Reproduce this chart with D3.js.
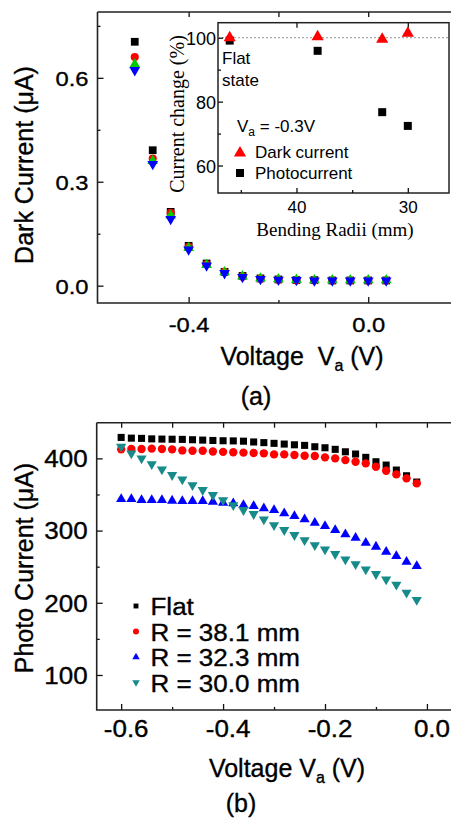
<!DOCTYPE html>
<meta charset="utf-8">
<head>
<title>Dark and photo current under bending</title>
<style>
body { margin: 0; background: #fff; }
svg text { font-family: "Liberation Sans", Arial, sans-serif; fill: #000; }
svg .heavy text, svg text.heavy { stroke: #000; stroke-width: 0.35; }
svg .serif { font-family: "Liberation Serif", "Times New Roman", serif; }
.domain { display: none; }
.tick line { stroke: #111; stroke-width: 1.3; }
.frame { fill: none; stroke: #222; stroke-width: 1.6; }
</style>
</head>
<body>
<div id="chart"></div>
<script src="https://d3js.org/d3.v7.min.js"></script>
<script>
// (a) dark current, four bending states
var darkV = [-0.52, -0.48, -0.44, -0.40, -0.36, -0.32, -0.28, -0.24, -0.20, -0.16, -0.12, -0.08, -0.04, 0.00, 0.04];
var darkFlat = [0.704, 0.391, 0.213, 0.115, 0.064, 0.040, 0.028, 0.021, 0.018, 0.016, 0.016, 0.015, 0.015, 0.015, 0.015];
var dark381 = [0.660, 0.367, 0.210, 0.112, 0.062, 0.040, 0.026, 0.020, 0.017, 0.015, 0.015, 0.015, 0.015, 0.015, 0.015];
var dark323 = [0.639, 0.360, 0.203, 0.109, 0.060, 0.039, 0.027, 0.021, 0.019, 0.017, 0.016, 0.016, 0.016, 0.016, 0.016];
var dark300 = [0.622, 0.351, 0.192, 0.104, 0.058, 0.036, 0.025, 0.019, 0.017, 0.016, 0.015, 0.015, 0.015, 0.015, 0.015];

// inset: current change at Va = -0.3 V
var radii = [46, 38.1, 32.3, 30.0];
var darkChange = [100, 100.3, 99.5, 101.4];
var photoChange = [99.1, 95.9, 76.7, 72.4];

// (b) photo current
var photoV = [-0.60, -0.58, -0.56, -0.54, -0.52, -0.50, -0.48, -0.46, -0.44, -0.42,
              -0.40, -0.38, -0.36, -0.34, -0.32, -0.30, -0.28, -0.26, -0.24, -0.22,
              -0.20, -0.18, -0.16, -0.14, -0.12, -0.10, -0.08, -0.06, -0.04, -0.02];
var photoFlat = [429, 428, 427.7, 427, 426.7, 426.5, 426.3, 425.8, 425.3, 424.8,
                 424.4, 424.2, 423.8, 422.7, 421.8, 420.8, 419.8, 418.8, 418, 416.1,
                 414.7, 412.5, 409.1, 406, 401.4, 395.3, 390.7, 383.8, 375.9, 367.2];
var photo381 = [412.5, 413, 413, 413.5, 413, 412.5, 411, 410.5, 410.5, 409.5,
                409, 408.5, 408, 407.5, 407, 405.5, 405.5, 404.6, 403.6, 403.2,
                401.4, 400, 397.6, 395.3, 393.1, 388.4, 382.8, 377.8, 372.3, 365.4];
var photo323 = [343.6, 343.6, 342.2, 342.2, 342.2, 341.3, 340.9, 340.9, 340.9, 339.9,
                338.5, 337.7, 335.3, 333.9, 330.7, 328.4, 323.8, 320.1, 315.5, 310.8,
                306.2, 300.7, 294.7, 290, 283.1, 277.6, 270.6, 264.7, 256.8, 250.8];
var photo300 = [416.1, 406.9, 400, 392.1, 384.8, 376.9, 370.9, 363, 356.1, 349.2,
                342.2, 335.3, 328.4, 322.9, 315.5, 307.6, 300.7, 293.8, 286.8, 279.9,
                274, 267.5, 260.1, 253.6, 246.3, 239.8, 232.4, 225, 214, 204];
var legendNames = ["Flat", "R = 38.1 mm", "R = 32.3 mm", "R = 30.0 mm"];

var width = 451,
    height = 818,
    sx = 1.13;

var svg = d3.select("#chart").append("svg")
    .attr("width", width)
    .attr("height", height);

svg.append("rect").attr("width", width).attr("height", height).attr("fill", "#fff");

var fmt = function(d) { return d.toFixed(1); };

function marks(g, xs, ys, x, y, type, size, color, flip) {
  g.append("g").selectAll("path")
    .data(xs)
    .enter().append("path")
    .attr("d", d3.symbol().type(type).size(size))
    .attr("fill", color)
    .attr("transform", function(d, i) {
      return "translate(" + x(d) + "," + y(ys[i]) + ")" + (flip ? " rotate(180)" : "");
    });
}

/* ---------- panel (a) ---------- */
var xa = d3.scaleLinear().domain([-0.603, 0.2]).range([97.5, 458]);
var ya = d3.scaleLinear().domain([-0.05, 0.79]).range([303, 12]);

var ga = svg.append("g");

ga.append("g").attr("class", "heavy").attr("transform", "translate(0,303)")
  .call(d3.axisBottom(xa).tickValues([-0.4, 0.0]).tickSize(-6).tickFormat(fmt))
  .call(function(g) {
    g.selectAll("text").attr("y", 29).attr("dy", null).style("font-size", "21px")
      .attr("transform", "scale(" + sx + ",1)");
  });
ga.append("g").attr("transform", "translate(0,303)")
  .call(d3.axisBottom(xa).tickValues([-0.2]).tickSize(-3).tickFormat(""));
ga.append("g").attr("transform", "translate(0,12)")
  .call(d3.axisTop(xa).tickValues([-0.4, -0.2, 0.0]).tickSize(-5).tickFormat(""));

ga.append("g").attr("class", "heavy").attr("transform", "translate(97.5,0)")
  .call(d3.axisLeft(ya).tickValues([0, 0.3, 0.6]).tickSize(-6).tickPadding(8).tickFormat(fmt))
  .call(function(g) {
    g.selectAll("text").style("font-size", "21px").attr("dy", "0.36em")
      .attr("transform", "scale(" + sx + ",1)");
  });
ga.append("g").attr("transform", "translate(97.5,0)")
  .call(d3.axisLeft(ya).tickValues([0.15, 0.45, 0.75]).tickSize(-3).tickFormat(""));

ga.append("path").attr("class", "frame")
  .attr("d", "M97.5,12V303H460M97.5,12H460");

marks(ga, darkV, darkFlat, xa, ya, d3.symbolSquare, 60, "#000");
marks(ga, darkV, dark381, xa, ya, d3.symbolCircle, 52, "#f00");
marks(ga, darkV, dark323, xa, ya, d3.symbolTriangle, 50, "#0c0");
marks(ga, darkV, dark300, xa, ya, d3.symbolTriangle, 50, "#00f", true);

ga.append("text").attr("class", "heavy")
  .attr("transform", "translate(33,165) rotate(-90)")
  .attr("text-anchor", "middle")
  .style("font-size", "25px")
  .text("Dark Current (\u03bcA)");

var ta = ga.append("text").attr("class", "heavy")
  .attr("x", 302).attr("y", 365)
  .attr("text-anchor", "middle")
  .style("font-size", "25px")
  .attr("xml:space", "preserve");
ta.append("tspan").text("Voltage  V");
ta.append("tspan").attr("dy", 6).style("font-size", "16px").text("a");
ta.append("tspan").attr("dy", -6).text(" (V)");

ga.append("text").attr("class", "heavy").attr("x", 256).attr("y", 405)
  .attr("text-anchor", "middle").style("font-size", "25px").text("(a)");

/* ---------- inset ---------- */
var xi = d3.scaleLinear().domain([47.05, 26.3]).range([218, 449]);
var yi = d3.scaleLinear().domain([51.4, 104.7]).range([193, 22.7]);

var gi = svg.append("g");
gi.append("rect").attr("x", 218).attr("y", 22.7).attr("width", 231).attr("height", 170.3)
  .attr("fill", "#fff").attr("stroke", "#222").attr("stroke-width", 1.5);

gi.append("line")
  .attr("x1", 218).attr("x2", 449)
  .attr("y1", yi(100)).attr("y2", yi(100))
  .attr("stroke", "#aaa").attr("stroke-width", 1.3).attr("stroke-dasharray", "2,2");

gi.append("g").attr("transform", "translate(0,193)")
  .call(d3.axisBottom(xi).tickValues([40, 30]).tickSize(-5).tickFormat(d3.format("d")))
  .call(function(g) { g.selectAll("text").attr("y", 20).attr("dy", null).style("font-size", "17px"); });
gi.append("g").attr("transform", "translate(0,193)")
  .call(d3.axisBottom(xi).tickValues([45, 35]).tickSize(-3).tickFormat(""));
gi.append("g").attr("transform", "translate(0,22.7)")
  .call(d3.axisTop(xi).tickValues([40, 30]).tickSize(-5).tickFormat(""));
gi.append("g").attr("transform", "translate(218,0)")
  .call(d3.axisLeft(yi).tickValues([60, 80, 100]).tickSize(-5).tickPadding(2).tickFormat(d3.format("d")))
  .call(function(g) { g.selectAll("text").style("font-size", "18px").attr("dy", "0.36em"); });
gi.append("g").attr("transform", "translate(218,0)")
  .call(d3.axisLeft(yi).tickValues([70, 90]).tickSize(-3).tickFormat(""));

marks(gi, radii, photoChange, xi, yi, d3.symbolSquare, 64, "#000");
marks(gi, radii, darkChange, xi, yi, d3.symbolTriangle, 64, "#f00");

gi.append("text").attr("x", 222).attr("y", 64).style("font-size", "17px").text("Flat");
gi.append("text").attr("x", 222).attr("y", 86).style("font-size", "17px").text("state");

var tv = gi.append("text").attr("x", 237).attr("y", 132).style("font-size", "17px");
tv.append("tspan").text("V");
tv.append("tspan").attr("dy", 4).style("font-size", "12px").text("a");
tv.append("tspan").attr("dy", -4).text(" = -0.3V");

gi.append("path").attr("d", d3.symbol().type(d3.symbolTriangle).size(64))
  .attr("fill", "#f00").attr("transform", "translate(240,153)");
gi.append("text").attr("x", 255).attr("y", 158).style("font-size", "17px").text("Dark current");
gi.append("path").attr("d", d3.symbol().type(d3.symbolSquare).size(64))
  .attr("fill", "#000").attr("transform", "translate(240,173)");
gi.append("text").attr("x", 255).attr("y", 179).style("font-size", "17px").text("Photocurrent");

gi.append("text").attr("class", "serif")
  .attr("transform", "translate(184,114) rotate(-90)")
  .attr("text-anchor", "middle").style("font-size", "20px")
  .text("Current change (%)");
gi.append("text").attr("class", "serif")
  .attr("x", 335).attr("y", 236)
  .attr("text-anchor", "middle").style("font-size", "19px")
  .text("Bending Radii (mm)");

/* ---------- panel (b) ---------- */
var xb = d3.scaleLinear().domain([-0.648, 0.05]).range([96.7, 452.4]);
var yb = d3.scaleLinear().domain([51.5, 449.4]).range([710, 422.7]);

var gb = svg.append("g");

gb.append("g").attr("class", "heavy").attr("transform", "translate(0,710)")
  .call(d3.axisBottom(xb).tickValues([-0.6, -0.4, -0.2, 0.0]).tickSize(-6).tickFormat(fmt))
  .call(function(g) {
    g.selectAll("text").attr("x", 4).attr("y", 27).attr("dy", null).style("font-size", "23px")
      .attr("transform", "scale(" + sx + ",1)");
  });
gb.append("g").attr("transform", "translate(0,710)")
  .call(d3.axisBottom(xb).tickValues([-0.5, -0.3, -0.1]).tickSize(-3).tickFormat(""));
gb.append("g").attr("transform", "translate(0,422.7)")
  .call(d3.axisTop(xb).tickValues([-0.6, -0.5, -0.4, -0.3, -0.2, -0.1, 0.0]).tickSize(-5).tickFormat(""));

gb.append("g").attr("class", "heavy").attr("transform", "translate(96.7,0)")
  .call(d3.axisLeft(yb).tickValues([100, 200, 300, 400]).tickSize(-6).tickPadding(8).tickFormat(d3.format("d")))
  .call(function(g) {
    g.selectAll("text").style("font-size", "23px").attr("dy", "0.36em")
      .attr("transform", "scale(" + sx + ",1)");
  });
gb.append("g").attr("transform", "translate(96.7,0)")
  .call(d3.axisLeft(yb).tickValues([150, 250, 350]).tickSize(-3).tickFormat(""));

gb.append("path").attr("class", "frame")
  .attr("d", "M96.7,422.7V710H460M96.7,422.7H460");

marks(gb, photoV, photoFlat, xb, yb, d3.symbolSquare, 50, "#000");
marks(gb, photoV, photo381, xb, yb, d3.symbolCircle, 55, "#f00");
marks(gb, photoV, photo323, xb, yb, d3.symbolTriangle, 45, "#00f");
marks(gb, photoV, photo300, xb, yb, d3.symbolTriangle, 45, "#178a8a", true);

// legend
var legTypes = [d3.symbolSquare, d3.symbolCircle, d3.symbolTriangle, d3.symbolTriangle],
    legColors = ["#000", "#f00", "#00f", "#178a8a"];
var leg = gb.append("g").attr("class", "heavy").selectAll("g")
  .data(legendNames)
  .enter().append("g")
  .attr("transform", function(d, i) { return "translate(0," + (615 + i * 25.5) + ")"; });
leg.append("path")
  .attr("d", function(d, i) { return d3.symbol().type(legTypes[i]).size(i == 1 ? 28 : 24)(); })
  .attr("fill", function(d, i) { return legColors[i]; })
  .attr("transform", function(d, i) { return "translate(136,-9)" + (i == 3 ? " rotate(180)" : ""); });
leg.append("text")
  .attr("transform", "translate(150.5,0) scale(" + sx + ",1)")
  .style("font-size", "23px")
  .text(function(d) { return d; });

gb.append("text").attr("class", "heavy")
  .attr("transform", "translate(33,568) rotate(-90)")
  .attr("text-anchor", "middle")
  .style("font-size", "25px")
  .text("Photo Current (\u03bcA)");

var tb = gb.append("text").attr("class", "heavy")
  .attr("x", 287).attr("y", 777)
  .attr("text-anchor", "middle")
  .style("font-size", "25px");
tb.append("tspan").text("Voltage V");
tb.append("tspan").attr("dy", 6).style("font-size", "16px").text("a");
tb.append("tspan").attr("dy", -6).text(" (V)");

gb.append("text").attr("class", "heavy").attr("x", 241).attr("y", 812)
  .attr("text-anchor", "middle").style("font-size", "25px").text("(b)");
</script>
</body>
